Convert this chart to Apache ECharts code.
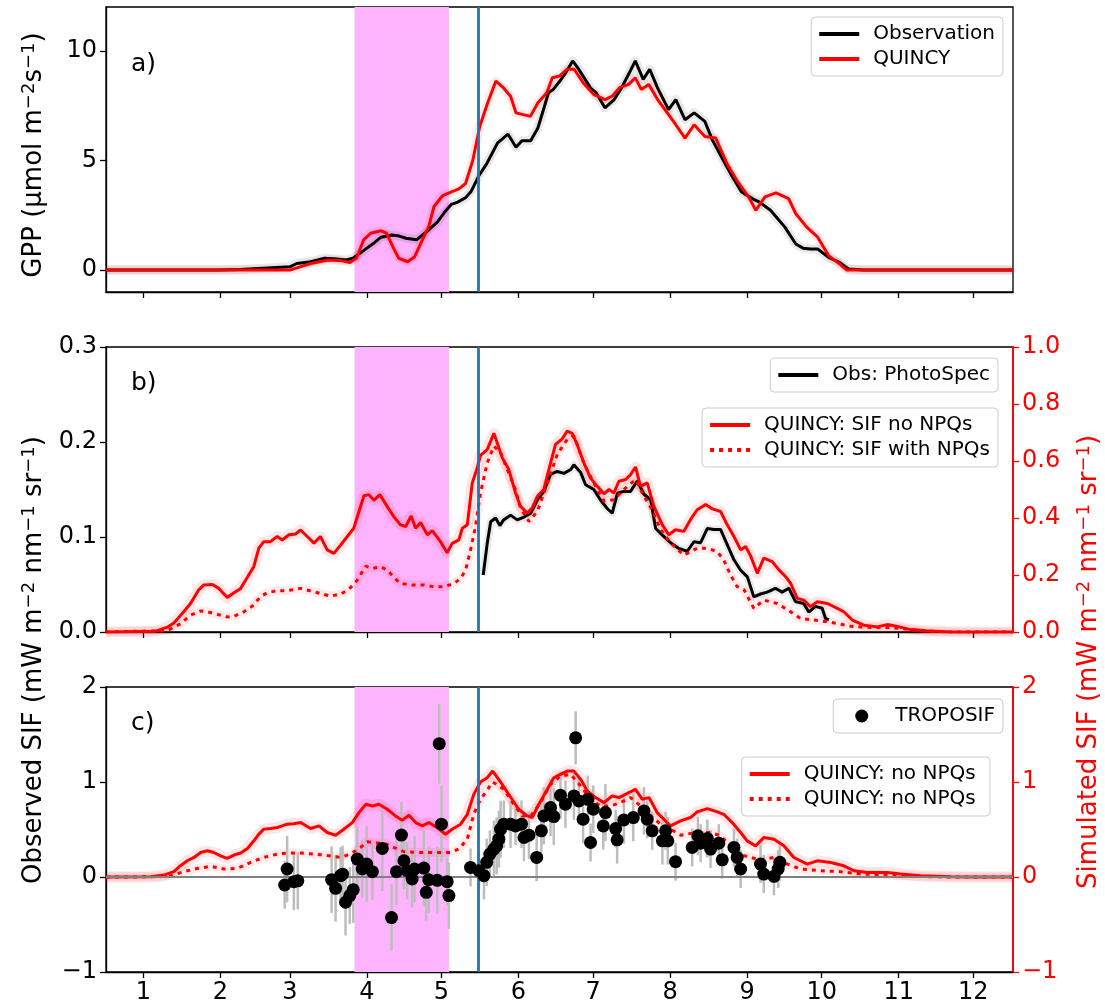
<!DOCTYPE html>
<html>
<head>
<meta charset="utf-8">
<script src="https://cdn.jsdelivr.net/npm/echarts@6/dist/echarts.min.js"></script>
<style>
  html, body { margin: 0; padding: 0; background: #fff; }
  #chart { width: 1105px; height: 1008px; }
</style>
</head>
<body>
<div id="chart"></div>
<script>
// x values are day of year (0 = 1 January); tick labels are months 1..12
const monthStarts = [0, 31, 59, 90, 120, 151, 181, 212, 243, 273, 304, 334];
const monthLabels = ['1','2','3','4','5','6','7','8','9','10','11','12'];
const spanDays = [85, 123];   // shaded period
const markerDay = 135;        // vertical line

// Panel a: GPP [day, value]
const gppObs = [[-15,0],[30,0],[39,0.03],[50,0.1],[59,0.15],[61.8,0.3],[67.4,0.38],[73,0.54],[78,0.5],[81.6,0.46],[84.4,0.54],[87,0.75],[90,1.0],[93,1.25],[95.7,1.5],[100,1.6],[103,1.55],[105.7,1.45],[109.9,1.38],[114.2,1.76],[118.4,2.2],[121,2.6],[124,3.0],[126.5,3.1],[129.7,3.3],[132,3.6],[135,4.3],[138.3,4.87],[142.6,5.8],[146.8,6.2],[150,5.6],[152.4,5.9],[155.9,5.9],[158.8,6.48],[161,7.3],[163.1,8.1],[165,8.24],[167.5,8.6],[170,9.0],[172.8,9.54],[175,9.2],[177.8,8.7],[180,8.3],[182.2,8.09],[185.8,7.4],[189.5,7.78],[192.4,8.3],[195.3,8.93],[198,9.54],[201.2,8.7],[203.8,9.16],[207,8.3],[211.4,7.32],[214.3,7.78],[218,6.86],[221.7,7.17],[226,6.78],[229,5.94],[231.9,5.33],[236.3,4.41],[240.7,3.57],[245.1,3.26],[248,3.1],[252.4,2.73],[258.2,1.96],[262.6,1.19],[265.5,1.0],[268.5,0.96],[271.4,0.96],[275.8,0.58],[280.2,0.35],[283.8,0.05],[290,0],[350,0]];
const gppQuincy = [[-15,0],[59,0],[61.8,0.1],[67.4,0.3],[74.5,0.46],[80,0.42],[83,0.34],[85.8,0.54],[88.7,1.38],[91.5,1.68],[95.7,1.79],[97.9,1.68],[100.7,1.0],[102.8,0.54],[106.4,0.38],[109.2,0.61],[112,1.3],[114.9,1.99],[117,2.9],[120.5,3.4],[124,3.57],[127,3.7],[129.7,3.95],[132.6,5.0],[135.4,6.55],[138.6,7.63],[141.9,8.62],[144.9,8.32],[147.8,7.93],[150,7.17],[152.9,7.09],[155.8,7.01],[158.8,7.63],[162.4,8.09],[164.6,8.77],[167.5,8.85],[170.5,9.16],[173.4,9.16],[177,8.55],[181.4,8.0],[185.8,7.78],[188.7,7.93],[191.7,8.32],[195.3,8.47],[198,8.77],[200.4,8.24],[203.4,8.47],[207,7.78],[211.4,7.09],[214.3,6.63],[218,6.02],[221.7,6.63],[226,6.09],[230.4,6.02],[234.8,4.87],[239.2,4.03],[243.6,3.34],[246.5,2.73],[250.2,3.34],[254.6,3.52],[259.7,3.26],[262.6,2.57],[267,1.96],[271.4,1.5],[275.8,0.66],[280.2,0.28],[283.1,0],[350,0]];

// Panel b: observed SIF (left axis) and simulated SIF (right axis)
const photoSpec = [[136.8,0.06],[138.4,0.093],[139.8,0.116],[141.8,0.12],[143.5,0.112],[145,0.118],[147.8,0.123],[150.5,0.118],[153.2,0.121],[155.9,0.125],[158.6,0.139],[161.2,0.148],[163.9,0.166],[166.6,0.169],[169.3,0.167],[172,0.171],[173.3,0.176],[176,0.168],[178,0.155],[181.3,0.15],[184,0.139],[186.7,0.13],[188.7,0.125],[190.8,0.146],[193.4,0.148],[196.1,0.148],[198.8,0.159],[201.5,0.145],[204.2,0.139],[206.2,0.109],[208.9,0.102],[212.2,0.094],[215.5,0.088],[218.9,0.085],[221.6,0.095],[224.3,0.094],[227,0.109],[229.6,0.108],[232.3,0.108],[235,0.092],[237.7,0.076],[240.4,0.065],[243.1,0.058],[245.7,0.037],[248.4,0.04],[251.1,0.042],[254.4,0.046],[257.1,0.042],[259.8,0.046],[262.5,0.032],[265.8,0.03],[267.8,0.021],[270.5,0.027],[273.2,0.025],[274.6,0.014],[275.9,0.013]];
const sifNoNpqB = [[-15,0],[5,0.003],[9.7,0.017],[12.3,0.032],[16.3,0.071],[19,0.1],[22.4,0.149],[24.4,0.165],[27.8,0.167],[30.4,0.153],[33.8,0.121],[36.5,0.138],[39.2,0.153],[41.9,0.192],[44.5,0.23],[46.5,0.294],[48.5,0.317],[51.2,0.317],[53.9,0.335],[55.9,0.323],[58.6,0.341],[61.3,0.344],[63.3,0.358],[66,0.335],[68.7,0.312],[71.3,0.335],[74,0.288],[76.7,0.276],[79.4,0.305],[82.1,0.335],[84.7,0.364],[86.8,0.423],[88.8,0.478],[90.8,0.482],[92.8,0.462],[95.2,0.482],[98.2,0.44],[100.8,0.405],[103.5,0.376],[105.6,0.37],[107.8,0.407],[109.6,0.364],[111.6,0.384],[114.3,0.341],[116.3,0.356],[119.6,0.317],[122.3,0.278],[124.3,0.311],[127,0.323],[128.4,0.364],[130.4,0.376],[132.4,0.523],[134.4,0.576],[135.7,0.62],[138.4,0.64],[141.1,0.697],[144.5,0.611],[147.1,0.57],[149.8,0.488],[151.8,0.441],[154.5,0.417],[156.5,0.435],[158.6,0.476],[161.2,0.5],[163.9,0.593],[165.9,0.658],[168.6,0.678],[170.6,0.705],[172.6,0.697],[174.6,0.658],[177.3,0.593],[180,0.54],[182.7,0.511],[185.4,0.485],[187.4,0.5],[189.4,0.488],[191.4,0.529],[194.1,0.535],[196.1,0.552],[198.1,0.579],[200.1,0.511],[202.8,0.523],[205.5,0.441],[208.9,0.376],[211.5,0.341],[214.2,0.359],[217.5,0.353],[220.2,0.394],[222.9,0.429],[226.3,0.447],[229,0.432],[232.3,0.423],[235,0.376],[237.7,0.335],[240.4,0.288],[242.4,0.3],[244.4,0.267],[247.1,0.206],[249.7,0.259],[253.1,0.247],[255.8,0.218],[258.5,0.194],[260.5,0.171],[263.2,0.118],[265.8,0.112],[268.5,0.089],[271.2,0.106],[275.3,0.1],[279.3,0.083],[281.9,0.071],[285.3,0.042],[290,0.024],[295.4,0.018],[299.4,0.026],[303,0.02],[308,0.01],[315,0.004],[325,0],[350,0]];
const sifNpqB = [[-15,0],[9.7,0.005],[15,0.029],[19,0.059],[23.1,0.074],[25.8,0.071],[29.8,0.062],[33.8,0.053],[36.5,0.055],[40.5,0.071],[43.9,0.091],[47.2,0.124],[49.9,0.138],[53.9,0.145],[57.9,0.145],[63.3,0.153],[68.7,0.141],[75.4,0.126],[79.4,0.133],[82.7,0.149],[86.1,0.182],[89.5,0.231],[92.2,0.223],[95.5,0.229],[98.2,0.217],[100.8,0.192],[103.5,0.17],[108.2,0.165],[112.9,0.165],[116.9,0.159],[121,0.159],[125,0.17],[127.7,0.188],[129.7,0.217],[131.7,0.288],[133.7,0.37],[135.7,0.488],[138.4,0.593],[141.1,0.652],[143.8,0.629],[146.5,0.57],[149.8,0.5],[151.8,0.435],[155.2,0.388],[158.6,0.423],[162.6,0.523],[166.6,0.623],[170.6,0.676],[173.3,0.688],[177.3,0.593],[181.3,0.523],[185.4,0.459],[189.4,0.464],[193.4,0.5],[198.1,0.535],[201.5,0.476],[204.8,0.429],[208.2,0.359],[212.2,0.312],[217.5,0.27],[222.9,0.294],[227,0.294],[231,0.282],[233.6,0.253],[236.3,0.2],[239,0.159],[241.7,0.149],[245.7,0.083],[249.7,0.112],[255.1,0.1],[260.5,0.071],[264.5,0.047],[269.9,0.042],[275.3,0.036],[279.3,0.03],[284.6,0.02],[292.7,0.016],[299.4,0.016],[305,0.012],[315,0.003],[325,0],[350,0]];

// Panel c: TROPOSIF [day, value, error] and simulated SIF
const tropoSif = [[56.9,-0.084,0.25],[57.9,0.084,0.35],[60.6,-0.049,0.3],[62.2,-0.04,0.3],[75.8,-0.028,0.35],[77.4,-0.119,0.35],[79.4,0.014,0.3],[80.2,0.03,0.3],[81.4,-0.266,0.35],[83.1,-0.196,0.3],[84.5,-0.133,0.35],[86.1,0.189,0.35],[88.1,0.084,0.3],[89.9,0.136,0.4],[92.2,0.056,0.3],[96.2,0.301,0.45],[99.9,-0.427,0.35],[101.9,0.056,0.35],[103.9,0.441,0.35],[104.9,0.171,0.3],[106.2,0.066,0.3],[108.2,-0.021,0.3],[109.2,0.084,0.35],[112.9,0.094,0.4],[113.9,-0.161,0.3],[114.9,-0.028,0.35],[118.3,-0.035,0.35],[119.1,1.403,0.42],[120,0.556,0.4],[122.3,-0.049,0.25],[123,-0.196,0.35],[131.7,0.101,0.2],[135.1,0.066,0.2],[137.1,0.014,0.25],[138.2,0.154,0.25],[139.5,0.241,0.25],[141.1,0.294,0.3],[142.2,0.328,0.3],[143.1,0.398,0.3],[143.8,0.503,0.3],[145.1,0.556,0.25],[147.8,0.556,0.25],[149.8,0.538,0.2],[152.2,0.556,0.25],[153.2,0.416,0.25],[155.2,0.44,0.25],[158.3,0.206,0.25],[160.2,0.486,0.3],[161.2,0.643,0.3],[163.9,0.731,0.3],[165.2,0.636,0.3],[167.9,0.86,0.25],[169.9,0.766,0.25],[173.3,0.853,0.25],[174,1.465,0.28],[175.3,0.801,0.25],[177,0.608,0.25],[178.9,0.818,0.25],[180,0.363,0.2],[181.1,0.713,0.25],[185.1,0.538,0.25],[186,0.678,0.3],[190.1,0.51,0.2],[190.7,0.391,0.25],[193.4,0.601,0.25],[197.2,0.626,0.25],[201.5,0.696,0.25],[202.8,0.608,0.2],[204.8,0.486,0.2],[208.9,0.381,0.25],[210.2,0.486,0.2],[211.1,0.381,0.25],[214.2,0.161,0.2],[220.9,0.311,0.2],[223.2,0.433,0.2],[224.3,0.356,0.2],[227,0.405,0.2],[228.3,0.294,0.2],[231.6,0.356,0.2],[233,0.181,0.2],[237.7,0.311,0.2],[239,0.206,0.2],[240.4,0.084,0.2],[248.4,0.136,0.2],[249.7,0.031,0.2],[253.8,0.007,0.2],[255.5,0.084,0.2],[256.2,0.154,0.2]];
const sifNoNpqC = [[-15,0],[3,0.002],[8.3,0.02],[12.3,0.056],[15,0.119],[17.7,0.171],[20.4,0.206],[23.1,0.258],[25.8,0.276],[28.4,0.258],[31.1,0.223],[33.8,0.196],[36.5,0.231],[39.2,0.252],[41.9,0.301],[44.5,0.381],[46.5,0.451],[48.5,0.504],[51.2,0.51],[53.9,0.521],[55.9,0.538],[57.9,0.556],[60.5,0.56],[63.3,0.573],[67.3,0.51],[70.7,0.538],[74,0.468],[77.4,0.44],[80.7,0.503],[84.1,0.573],[86.8,0.678],[89.5,0.765],[92.2,0.748],[94.8,0.765],[98.2,0.713],[101.5,0.643],[104.2,0.598],[106.9,0.65],[109.6,0.573],[112.3,0.538],[114.9,0.573],[118.3,0.52],[121.6,0.45],[124.3,0.503],[127.7,0.556],[130.4,0.66],[133,0.87],[135.7,1.0],[138.4,1.045],[140.6,1.115],[143.8,1.0],[147.5,0.853],[151.1,0.713],[154.5,0.643],[156.5,0.626],[159.2,0.766],[162.6,0.923],[165.2,1.045],[167.9,1.08],[170.6,1.115],[173.3,1.115],[176,1.028],[178.7,0.906],[182,0.836],[185.4,0.783],[188.7,0.853],[191.4,0.836],[194.8,0.88],[198.1,0.923],[200.8,0.818],[203.5,0.836],[206.8,0.678],[210.2,0.59],[212.2,0.538],[216.2,0.59],[220.2,0.626],[222.9,0.685],[227,0.72],[231,0.685],[233.6,0.66],[237,0.573],[240.4,0.468],[243,0.38],[246.4,0.328],[249.7,0.415],[253.8,0.398],[257.8,0.328],[261.8,0.205],[267.2,0.136],[271.2,0.17],[276.6,0.153],[281.9,0.118],[286,0.066],[291.3,0.048],[299.4,0.048],[304.7,0.031],[312.8,0.013],[325,0.003],[335,0],[350,0]];
const sifNpqC = [[-15,0],[6,0.002],[11,0.013],[16.3,0.056],[21.7,0.09],[27.1,0.112],[32.4,0.084],[37.8,0.09],[43.2,0.154],[48.5,0.206],[53.9,0.241],[57.9,0.252],[63.3,0.252],[71.3,0.235],[79.4,0.207],[83.4,0.242],[87.4,0.311],[90.1,0.371],[93.5,0.357],[96.8,0.357],[100.8,0.311],[104.9,0.266],[110.3,0.259],[115.6,0.259],[120.3,0.259],[123.7,0.259],[127,0.294],[130.4,0.399],[133,0.661],[135.7,0.818],[137.7,0.888],[140.6,1.0],[145.1,0.923],[149.1,0.766],[152.5,0.643],[155.9,0.643],[159.9,0.783],[163.9,0.976],[167.9,1.063],[172,1.08],[176,0.958],[180,0.818],[184,0.748],[188.1,0.748],[192.1,0.783],[196.1,0.836],[200.1,0.748],[204.2,0.643],[208.2,0.556],[212.2,0.503],[216.2,0.44],[220.2,0.458],[224.3,0.468],[228.3,0.468],[232.3,0.433],[236.3,0.328],[240.4,0.235],[244.4,0.206],[248.4,0.18],[253.8,0.206],[259.2,0.136],[264.5,0.083],[272.6,0.066],[280.6,0.056],[288.7,0.031],[296.7,0.024],[304.7,0.013],[315,0.003],[325,0],[350,0]];

// Tick values
const gppTicks = [0, 5, 10];
const obsSifTicksB = [0, 0.1, 0.2, 0.3];
const simSifTicksB = [0, 0.2, 0.4, 0.6, 0.8, 1.0];
const sifTicksC = [-1, 0, 1, 2];

const FONT = "'DejaVu Sans', sans-serif";
const RED = '#ff0000';
const TICK_FS = 24;
const LEG_FS = 20;
const TITLE_FS = 26;
const SUP_FS = 18;

function fmtMinus(v) { return String(v).replace('-', '\u2212'); }

function xAxisFor(gi, showLabels) {
  return {
    type: 'value', gridIndex: gi, min: -15, max: 350,
    splitLine: { show: false },
    axisLine: { show: true, onZero: false, lineStyle: { color: '#000', width: 1.3 } },
    axisTick: { show: true, customValues: monthStarts, length: 6, lineStyle: { color: '#000', width: 1.3 } },
    axisLabel: {
      show: showLabels, customValues: monthStarts, margin: 9,
      fontSize: TICK_FS, color: '#000', fontFamily: FONT,
      formatter: v => monthLabels[monthStarts.findIndex(m => Math.abs(m - v) < 0.01)]
    }
  };
}

function yAxisFor(gi, pos, min, max, ticks, color, fmt) {
  return {
    type: 'value', gridIndex: gi, position: pos, min: min, max: max,
    splitLine: { show: false },
    axisLine: { show: true, onZero: false, lineStyle: { color: color, width: color === '#000' ? 1.3 : 1.8 } },
    axisTick: { show: true, customValues: ticks, length: 6, lineStyle: { color: color, width: 1.3 } },
    axisLabel: { customValues: ticks, margin: 9, fontSize: TICK_FS, color: color, fontFamily: FONT, formatter: fmt }
  };
}

function lineSeries(name, data, xi, yi, color, width, dotted, z) {
  return {
    name: name, type: 'line', xAxisIndex: xi, yAxisIndex: yi, data: data,
    showSymbol: false, symbol: 'none', smooth: false, z: z || 4,
    lineStyle: { color: color, width: width, type: dotted ? [4, 5] : 'solid', cap: 'butt' },
    itemStyle: { color: color }, emphasis: { disabled: true }, silent: true
  };
}
function bandSeries(data, xi, yi, color, width) {
  return {
    name: '_band', type: 'line', xAxisIndex: xi, yAxisIndex: yi, data: data,
    showSymbol: false, symbol: 'none', z: 2,
    lineStyle: { color: color, width: width, join: 'round' },
    emphasis: { disabled: true }, silent: true
  };
}
function spanSeries(xi, yi) {
  return [{
    name: '_span', type: 'line', xAxisIndex: xi, yAxisIndex: yi, data: [], z: 1, silent: true,
    markArea: { silent: true, itemStyle: { color: '#fdb4fd' }, data: [[{ xAxis: spanDays[0] }, { xAxis: spanDays[1] }]] }
  }, {
    name: '_vline', type: 'line', xAxisIndex: xi, yAxisIndex: yi, data: [], z: 5, silent: true,
    markLine: { silent: true, symbol: 'none', label: { show: false }, animation: false,
      lineStyle: { color: '#1f77b4', width: 2.8, type: 'solid' }, data: [{ xAxis: markerDay }] }
  }];
}

const LINE_ICON = 'path://M0,0H40V4H0Z';
const DOT_ICON = 'path://M0,0h4v4h-4z M9,0h4v4h-4z M18,0h4v4h-4z M27,0h4v4h-4z M36,0h4v4h-4z';
function legendBox(items, right, top) {
  return {
    orient: 'vertical', right: right, top: top, itemWidth: 40, itemHeight: 4, itemGap: 5,
    padding: [7, 8, 7, 8], borderColor: '#cccccc', borderWidth: 1, borderRadius: 4,
    backgroundColor: 'rgba(255,255,255,0.8)', selectedMode: false,
    textStyle: { fontSize: LEG_FS, color: '#000', fontFamily: FONT, padding: [0, 0, 0, 9] },
    data: items
  };
}

const errorBars = {
  name: '_err', type: 'custom', xAxisIndex: 2, yAxisIndex: 3, data: tropoSif, z: 3, silent: true,
  encode: { x: 0, y: 1 },
  renderItem: function (params, api) {
    const x = api.value(0), y = api.value(1), e = api.value(2);
    const p1 = api.coord([x, y - e]), p2 = api.coord([x, y + e]);
    return { type: 'line', shape: { x1: p1[0], y1: p1[1], x2: p2[0], y2: p2[1] },
      style: { stroke: '#bdbdbd', lineWidth: 2.5 } };
  }
};

function titleText(x, y, text, color) {
  return { type: 'text', x: x, y: y, rotation: Math.PI / 2,
    style: { text: text, fontSize: TITLE_FS, fontFamily: FONT, fill: color, align: 'center', verticalAlign: 'middle',
      rich: { s: { fontSize: SUP_FS, fontFamily: FONT, fill: color, verticalAlign: 'top', padding: [0, 0, 10, 0] } } } };
}

const option = {
  animation: false,
  backgroundColor: '#fff',
  textStyle: { fontFamily: FONT },
  grid: [
    { left: 106, right: 92, top: 7, height: 285, show: true, borderColor: '#000', borderWidth: 1.3, backgroundColor: 'transparent' },
    { left: 106, right: 92, top: 347, height: 285, show: true, borderColor: '#000', borderWidth: 1.3, backgroundColor: 'transparent' },
    { left: 106, right: 92, top: 687, height: 285, show: true, borderColor: '#000', borderWidth: 1.3, backgroundColor: 'transparent' }
  ],
  xAxis: [xAxisFor(0, false), xAxisFor(1, false), xAxisFor(2, true)],
  yAxis: [
    yAxisFor(0, 'left', -1, 12, gppTicks, '#000', v => String(v)),
    yAxisFor(1, 'left', 0, 0.3, obsSifTicksB, '#000', v => v.toFixed(1)),
    yAxisFor(1, 'right', 0, 1.0, simSifTicksB, RED, v => v.toFixed(1)),
    yAxisFor(2, 'left', -1, 2, sifTicksC, '#000', fmtMinus),
    yAxisFor(2, 'right', -1, 2, sifTicksC, RED, fmtMinus)
  ],
  legend: [
    legendBox([{ name: 'Observation', icon: LINE_ICON }, { name: 'QUINCY', icon: LINE_ICON }], 102, 17),
    legendBox([{ name: 'Obs: PhotoSpec', icon: LINE_ICON }], 107, 358),
    legendBox([{ name: 'QUINCY: SIF no NPQs', icon: LINE_ICON }, { name: 'QUINCY: SIF with NPQs', icon: DOT_ICON }], 107, 408),
    Object.assign(legendBox([{ name: 'TROPOSIF', icon: 'circle' }], 102, 699), { itemWidth: 13, itemHeight: 13, padding: [7, 8, 7, 22], textStyle: { fontSize: LEG_FS, color: '#000', fontFamily: FONT, padding: [0, 0, 0, 22] } }),
    legendBox([{ name: 'QUINCY: no NPQs', icon: LINE_ICON }, { name: 'QUINCY: no NPQs ', icon: DOT_ICON }], 115, 757)
  ],
  graphic: [
    { type: 'text', left: 131, top: 52, style: { text: 'a)', font: '25px ' + FONT, fill: '#000' } },
    { type: 'text', left: 131, top: 371, style: { text: 'b)', font: '25px ' + FONT, fill: '#000' } },
    { type: 'text', left: 131, top: 711, style: { text: 'c)', font: '25px ' + FONT, fill: '#000' } },
    titleText(34, 155, 'GPP (\u03bcmol m{s|\u22122}s{s|\u22121})', '#000'),
    titleText(34, 660, 'Observed SIF (mW m{s|\u22122} nm{s|\u22121} sr{s|\u22121})', '#000'),
    titleText(1089, 662, 'Simulated SIF (mW m{s|\u22122} nm{s|\u22121} sr{s|\u22121})', RED)
  ],
  series: [
    ...spanSeries(0, 0),
    bandSeries(gppObs, 0, 0, 'rgba(0,0,0,0.09)', 9),
    bandSeries(gppQuincy, 0, 0, 'rgba(255,0,0,0.09)', 9),
    lineSeries('Observation', gppObs, 0, 0, '#000', 3),
    lineSeries('QUINCY', gppQuincy, 0, 0, RED, 3),

    ...spanSeries(1, 1),
    bandSeries(sifNoNpqB, 1, 2, 'rgba(255,0,0,0.1)', 11),
    bandSeries(sifNpqB, 1, 2, 'rgba(255,0,0,0.08)', 9),
    bandSeries(photoSpec, 1, 1, 'rgba(0,0,0,0.08)', 8),
    lineSeries('Obs: PhotoSpec', photoSpec, 1, 1, '#000', 3),
    lineSeries('QUINCY: SIF no NPQs', sifNoNpqB, 1, 2, RED, 3),
    lineSeries('QUINCY: SIF with NPQs', sifNpqB, 1, 2, RED, 3, true),

    ...spanSeries(2, 3),
    {
      name: '_zero', type: 'line', xAxisIndex: 2, yAxisIndex: 3, data: [], z: 2, silent: true,
      markLine: { silent: true, symbol: 'none', label: { show: false }, animation: false,
        lineStyle: { color: '#808080', width: 2, type: 'solid' }, data: [{ yAxis: 0 }] }
    },
    bandSeries(sifNoNpqC, 2, 4, 'rgba(255,0,0,0.1)', 11),
    bandSeries(sifNpqC, 2, 4, 'rgba(255,0,0,0.08)', 9),
    lineSeries('QUINCY: no NPQs', sifNoNpqC, 2, 4, RED, 3),
    lineSeries('QUINCY: no NPQs ', sifNpqC, 2, 4, RED, 3, true),
    errorBars,
    {
      name: 'TROPOSIF', type: 'scatter', xAxisIndex: 2, yAxisIndex: 3, data: tropoSif,
      encode: { x: 0, y: 1 }, symbol: 'circle', symbolSize: 13, z: 6, silent: true,
      itemStyle: { color: '#000', opacity: 1 }, emphasis: { disabled: true }
    }
  ]
};

const chart = echarts.init(document.getElementById('chart'), null, { renderer: 'canvas' });
chart.setOption(option);
</script>
</body>
</html>
